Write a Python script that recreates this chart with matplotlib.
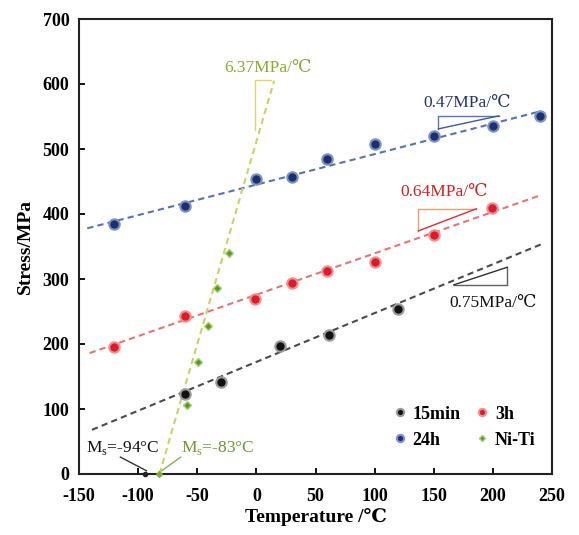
import matplotlib
matplotlib.use("Agg")
import matplotlib.pyplot as plt
import numpy as np

plt.rcParams['font.family'] = ['Liberation Serif', 'DejaVu Serif']
plt.rcParams['mathtext.fontset'] = 'custom'
plt.rcParams['mathtext.rm'] = 'Liberation Serif'
plt.rcParams['axes.unicode_minus'] = False

# ---- data ----
t_15min = [-60, -30, 20, 61, 120]
s_15min = [123, 142, 197, 214, 254]

t_3h = [-120, -60, -1, 30, 60, 100, 150, 199]
s_3h = [195, 243, 269, 294, 312, 326, 368, 409]

t_24h = [-120, -60, 0, 30, 60, 100, 150, 200, 240]
s_24h = [385, 412, 454, 457, 485, 508, 520, 535, 551]

t_niti = [-59, -49, -41, -33, -23]
s_niti = [106, 172, 228, 286, 340]

# fitted trend lines (end points)
fit_15min_t = [-139, 243]
fit_15min_s = [68, 355]
fit_3h_t = [-141, 239]
fit_3h_s = [186, 428]
fit_24h_t = [-143, 238]
fit_24h_s = [378, 557]
fit_niti_t = [-82, 15]
fit_niti_s = [0, 605]

# Ms points
ms_t = [-94, -82]
ms_s = [0, 0]

x_ticks = [-150, -100, -50, 0, 50, 100, 150, 200, 250]
y_ticks = [0, 100, 200, 300, 400, 500, 600, 700]

fig = plt.figure(figsize=(5.79, 5.35), dpi=100)
ax = fig.add_axes([79/579, 1-474/535, 473/579, 455/535])

dash = (0, (3, 2))
ax.plot(fit_15min_t, fit_15min_s, ls=dash, color='#4a4a4a', lw=1.5, zorder=2)
ax.plot(fit_3h_t, fit_3h_s, ls=dash, color='#e87474', lw=1.5, zorder=2)
ax.plot(fit_24h_t, fit_24h_s, ls=dash, color='#5674b4', lw=1.5, zorder=2)
ax.plot(fit_niti_t, fit_niti_s, ls=dash, color='#cfd068', lw=1.5, zorder=2)

# slope triangles
ax.plot([-1, -1, 12], [529, 606, 606], color='#e6d070', lw=1.0, zorder=2)
ax.plot([154, 154, 205], [531, 551, 551], color='#5a78b0', lw=1.0, zorder=2)
ax.plot([154, 205], [531, 551], color='#3a5aa8', lw=1.0, zorder=2)
ax.plot([137, 137, 186], [374, 408, 408], color='#e8a070', lw=1.0, zorder=2)
ax.plot([137, 186], [374, 408], color='#d83030', lw=1.0, zorder=2)
ax.plot([167, 212, 212], [291, 291, 318], color='#606060', lw=1.0, zorder=2)
ax.plot([167, 212], [291, 318], color='#303030', lw=1.0, zorder=2)

h1, = ax.plot(t_15min, s_15min, 'o', ms=7.5, mfc='#111111', mec='#9a9a9a', mew=1.5, label='15min', zorder=4)
h2, = ax.plot(t_3h, s_3h, 'o', ms=7.5, mfc='#d81c2c', mec='#f29090', mew=1.5, label='3h', zorder=4)
h3, = ax.plot(t_24h, s_24h, 'o', ms=7.5, mfc='#1c2f70', mec='#7d92c4', mew=1.5, label='24h', zorder=4)
h4, = ax.plot(t_niti, s_niti, 'D', ms=4.5, mfc='#5a9a28', mec='#a8d078', mew=1.0, label='Ni-Ti', zorder=4)

ax.plot(ms_t[:1], ms_s[:1], 'o', ms=3, color='#222222', zorder=5, clip_on=False)
ax.plot(ms_t[1:], ms_s[1:], 'D', ms=3, color='#7ab040', zorder=5, clip_on=False)

# annotations
fs = 12.5
ax.text(10, 625, '6.37MPa/℃', color='#8aaa30', fontsize=fs, ha='center', va='center')
ax.text(178, 571, '0.47MPa/℃', color='#24337a', fontsize=fs, ha='center', va='center')
ax.text(159, 434, '0.64MPa/℃', color='#d42020', fontsize=fs, ha='center', va='center')
ax.text(200, 263, '0.75MPa/℃', color='#111111', fontsize=fs, ha='center', va='center')
ax.text(-113, 40, 'M$_\\mathrm{s}$=-94°C', color='#111111', fontsize=fs, ha='center', va='center')
ax.text(-33, 40, 'M$_\\mathrm{s}$=-83°C', color='#6a9a30', fontsize=fs, ha='center', va='center')
ax.plot([-115, -93], [26, 5], color='#333333', lw=1.0, zorder=3)
ax.plot([-64, -80], [26, 5], color='#8ab050', lw=1.0, zorder=3)

ax.set_xlim(-150, 250)
ax.set_ylim(0, 700)
ax.set_xticks(x_ticks)
ax.set_yticks(y_ticks)
ax.tick_params(direction='in', length=4, width=1.3, labelsize=13,
               top=False, right=False)
ax.tick_params(axis='x', pad=10)
ax.tick_params(axis='y', pad=7)
for lab in ax.get_xticklabels() + ax.get_yticklabels():
    lab.set_fontweight('bold')
for sp in ax.spines.values():
    sp.set_linewidth(1.5)
    sp.set_color('#222222')

ax.set_xlabel('Temperature /℃', fontsize=14, fontweight='bold', labelpad=2)
ax.set_ylabel('Stress/MPa', fontsize=14, fontweight='bold', labelpad=6)

leg = ax.legend([h1, h3, h2, h4], ['15min', '24h', '3h', 'Ni-Ti'],
                loc='lower right', bbox_to_anchor=(1.0, 0.02), ncol=2, frameon=False,
                prop={'weight': 'bold', 'size': 13}, handletextpad=0.1,
                columnspacing=0.6, labelspacing=0.5, handlelength=1.2, markerscale=0.7)

fig.savefig('out.png', dpi=100)
